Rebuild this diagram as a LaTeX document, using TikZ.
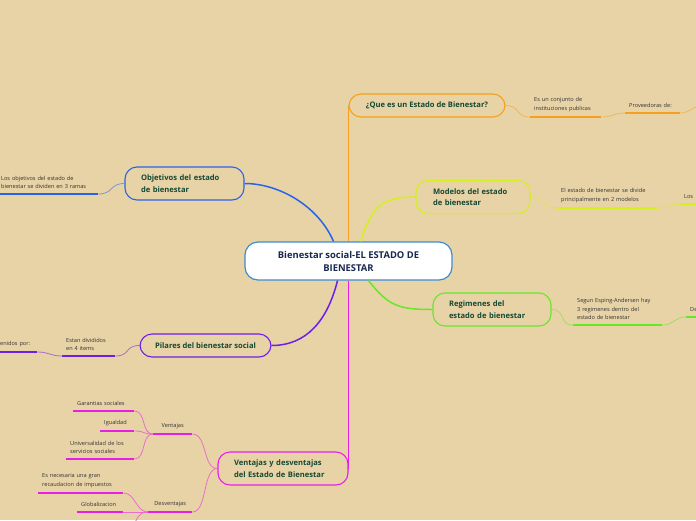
\documentclass[tikz,border=0pt]{standalone}
\usepackage{fontspec}
\setmainfont{Open Sans}
\definecolor{paper}{RGB}{232,211,167}
\definecolor{orangeline}{RGB}{245,160,30}
\definecolor{blueline}{RGB}{40,100,235}
\definecolor{limeline}{RGB}{212,240,30}
\definecolor{greenline}{RGB}{100,232,40}
\definecolor{purpleline}{RGB}{110,30,235}
\definecolor{magline}{RGB}{232,30,232}
\definecolor{rootline}{RGB}{60,140,210}
\definecolor{roottext}{RGB}{25,40,80}
\definecolor{topictext}{RGB}{20,72,52}
\definecolor{leaftext}{RGB}{50,50,50}
\tikzset{
  root/.style={draw=rootline, fill=white, line width=1.2pt, rounded corners=13pt,
    text=roottext, font=\bfseries\fontsize{9.4}{13}\selectfont, align=center,
    minimum width=207pt, minimum height=38pt},
  topic/.style={draw=#1, line width=1.1pt, rounded corners=12pt, text=topictext,
    font=\bfseries\fontsize{7.6}{11.5}\selectfont, align=left, minimum height=23pt, inner xsep=12pt},
  leaf/.style={font=\fontsize{5.6}{8.5}\selectfont, text=leaftext, align=left,
    text width=#1, inner xsep=4pt, inner ysep=5pt, anchor=south west},
  limb/.style={draw=#1, line width=1.5pt},
  twig/.style={draw=#1!55!paper, line width=0.8pt},
  underline/.style={draw=#1, line width=1.8pt}
}
\begin{document}
\begin{tikzpicture}[x=1pt, y=-1pt]
\fill[paper] (0,0) rectangle (696,520);
\path[use as bounding box] (0,0) rectangle (696,520);
\clip (0,0) rectangle (696,520);

\node[root] (center) at (348.5,261) {Bienestar social-EL ESTADO DE\\BIENESTAR};

\node[topic=orangeline, minimum width=156pt] (que) at (427,105.5) {¿Que es un Estado de Bienestar?};
\node[topic=blueline, text width=87pt, inner xsep=16pt, minimum height=33pt] (obj) at (184.5,183.5) {Objetivos del estado\\de bienestar};
\node[topic=limeline, text width=80pt, inner xsep=17pt, minimum height=33pt] (mod) at (473,197) {Modelos del estado\\de bienestar};
\node[topic=greenline, text width=86pt, inner xsep=16pt, minimum height=33pt] (reg) at (492,309.5) {Regimenes del\\estado de bienestar};
\node[topic=purpleline, minimum width=131pt] (pil) at (205.5,345.5) {Pilares del bienestar social};
\node[topic=magline, text width=98pt, inner xsep=16pt, minimum height=33pt] (ven) at (283,468.5) {Ventajas y desventajas\\del Estado de Bienestar};

\draw[limb=orangeline] (center.north) -- (center.north |- que.west);
\draw[limb=blueline] ([xshift=-15pt]center.north) .. controls +(-15,-35) and +(35,0) .. (obj.east);
\draw[limb=limeline] ([xshift=12pt]center.north) .. controls +(12,-35) and +(-35,0) .. (mod.west);
\draw[limb=greenline] ([xshift=20pt]center.south) .. controls +(20,25) and +(-35,0) .. (reg.west);
\draw[limb=purpleline] ([xshift=-11pt]center.south) .. controls +(-10,40) and +(35,0) .. (pil.east);
\draw[limb=magline] (center.south) -- (center.south |- ven.east);

\node[leaf=63pt] (es) at (530,117) {Es un conjunto de\\instituciones publicas};
\node[leaf=47pt] (prov) at (625,113) {Proveedoras de:};
\coordinate (provout) at (702,106);
\node[leaf=93pt] (objtxt) at (-3,194) {Los objetivos del estado de\\bienestar se dividen en 3 ramas};
\node[leaf=92pt] (modtxt) at (557,208) {El estado de bienestar se divide\\principalmente en 2 modelos};
\node[leaf=32pt] (los) at (680,204) {Los};
\node[leaf=81pt] (regtxt) at (573,325) {Segun Esping-Andersen hay\\3 regimenes dentro del\\estado de bienestar};
\node[leaf=32pt] (de) at (686,317) {De};
\node[leaf=45pt] (piltxt) at (62,356) {Estan divididos\\en 4 items};
\node[leaf=35pt] (tenidos) at (-6,352) {tenidos por:};
\node[leaf=31pt, align=center] (ventajas) at (153,434) {Ventajas};
\node[leaf=36pt, align=center] (desv) at (148,512) {Desventajas};
\node[leaf=53pt] (garantias) at (73,411) {Garantias sociales};
\node[leaf=26pt] (igualdad) at (100,431) {Igualdad};
\node[leaf=60pt] (universal) at (66,459) {Universalidad de los\\servicios sociales};
\node[leaf=77pt] (necesaria) at (38,493) {Es necesaria una gran\\recaudacion de impuestos};
\node[leaf=38pt] (global) at (77,512) {Globalizacion};
\coordinate (desvout) at (134,526);

\draw[twig=orangeline] (que.east) .. controls +(15,0) and +(-15,0) .. (es.south west);
\draw[twig=orangeline] (es.south east) .. controls +(12,0) and +(-12,0) .. (prov.south west);
\draw[twig=orangeline] (prov.south east) .. controls +(10,0) and +(-10,0) .. (provout);
\draw[twig=blueline] (obj.west) .. controls +(-15,0) and +(15,0) .. (objtxt.south east);
\draw[twig=limeline] (mod.east) .. controls +(15,0) and +(-15,0) .. (modtxt.south west);
\draw[twig=limeline] (modtxt.south east) .. controls +(12,0) and +(-12,0) .. (los.south west);
\draw[twig=greenline] (reg.east) .. controls +(15,0) and +(-15,0) .. (regtxt.south west);
\draw[twig=greenline] (regtxt.south east) .. controls +(12,0) and +(-12,0) .. (de.south west);
\draw[twig=purpleline] (pil.west) .. controls +(-15,0) and +(15,0) .. (piltxt.south east);
\draw[twig=purpleline] (piltxt.south west) .. controls +(-12,0) and +(12,0) .. (tenidos.south east);
\draw[twig=magline] (ven.west) .. controls +(-15,0) and +(15,0) .. (ventajas.south east);
\draw[twig=magline] (ven.west) .. controls +(-15,0) and +(15,0) .. (desv.south east);
\foreach \n in {garantias,igualdad,universal}
  \draw[twig=magline] (ventajas.south west) .. controls +(-12,0) and +(12,0) .. (\n.south east);
\foreach \n in {necesaria,global}
  \draw[twig=magline] (desv.south west) .. controls +(-12,0) and +(12,0) .. (\n.south east);
\draw[twig=magline] (desv.south west) .. controls +(-10,0) and +(2,-6) .. (desvout);

\foreach \n in {es,prov}
  \draw[underline=orangeline] (\n.south west) -- (\n.south east);
\draw[underline=blueline] (objtxt.south west) -- (objtxt.south east);
\foreach \n in {modtxt,los}
  \draw[underline=limeline] (\n.south west) -- (\n.south east);
\foreach \n in {regtxt,de}
  \draw[underline=greenline] (\n.south west) -- (\n.south east);
\foreach \n in {piltxt,tenidos}
  \draw[underline=purpleline] (\n.south west) -- (\n.south east);
\foreach \n in {ventajas,desv,garantias,igualdad,universal,necesaria,global}
  \draw[underline=magline] (\n.south west) -- (\n.south east);
\end{tikzpicture}
\end{document}
